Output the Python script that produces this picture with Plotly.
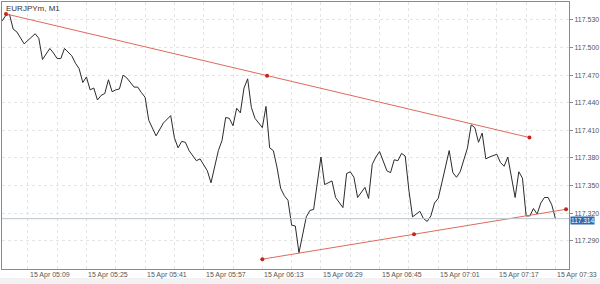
import plotly.graph_objects as go
from datetime import datetime, timedelta

DAY = "2021-04-15"
title = "EURJPYm, M1"

# close prices at line vertices: minutes after 05:00, price
minutes = [2, 3, 4, 5, 6, 8, 11, 12, 13, 15, 16, 17, 18, 19, 21, 22, 23, 24, 25, 26,
           27, 28, 29, 30, 31, 32, 33, 34, 35, 36, 38, 39, 40, 41, 42, 44, 46, 48, 49, 50,
           51, 52, 53, 54, 55, 56, 57, 58, 59, 60, 61, 62, 63, 64, 65, 66, 67, 68, 69, 70,
           71, 73, 74, 75, 76, 77, 78, 79, 80, 81, 82, 83, 84, 85, 86, 87, 89, 90, 92, 93,
           95, 96, 97, 98, 99, 101, 102, 103, 104, 105, 107, 108, 109, 110, 111, 112, 113, 114, 116, 117,
           118, 119, 120, 121, 122, 124, 125, 126, 127, 129, 130, 131, 132, 133, 134, 135, 137, 138, 139, 140,
           142, 143, 144, 145, 146, 147, 148, 149, 150, 151, 152, 153]
prices = [117.529, 117.535, 117.536, 117.520, 117.517, 117.504, 117.515, 117.510, 117.487, 117.499,
          117.494, 117.488, 117.488, 117.499, 117.491, 117.483, 117.477, 117.462, 117.468, 117.454,
          117.456, 117.443, 117.448, 117.450, 117.465, 117.452, 117.454, 117.455, 117.470, 117.467,
          117.457, 117.457, 117.451, 117.446, 117.421, 117.404, 117.418, 117.426, 117.402, 117.391,
          117.398, 117.397, 117.388, 117.383, 117.377, 117.379, 117.372, 117.366, 117.353, 117.369,
          117.388, 117.399, 117.424, 117.423, 117.415, 117.434, 117.429, 117.456, 117.466, 117.435,
          117.423, 117.413, 117.436, 117.391, 117.388, 117.370, 117.347, 117.339, 117.334, 117.307,
          117.306, 117.277, 117.298, 117.316, 117.323, 117.324, 117.381, 117.351, 117.355, 117.337,
          117.326, 117.363, 117.365, 117.359, 117.337, 117.348, 117.336, 117.373, 117.381, 117.387,
          117.366, 117.364, 117.378, 117.377, 117.385, 117.382, 117.345, 117.316, 117.322, 117.314,
          117.311, 117.317, 117.331, 117.336, 117.353, 117.388, 117.364, 117.359, 117.365, 117.391,
          117.416, 117.413, 117.397, 117.407, 117.379, 117.381, 117.384, 117.375, 117.371, 117.381,
          117.337, 117.365, 117.358, 117.317, 117.317, 117.325, 117.319, 117.331, 117.337, 117.337,
          117.329, 117.314]

# trend lines (minutes after 05:00, price)
upper_min = [3.04, 74.3, 145.9]
upper_px = [117.5365, 117.4694, 117.4022]
lower_min = [73.0, 114.4, 155.9]
lower_px = [117.270, 117.297, 117.3242]

current_price = 117.314
x_tick_labels = ["05:09", "05:25", "05:41", "05:57", "06:13", "06:29", "06:45", "07:01", "07:17", "07:33"]
y_ticks = [117.290, 117.320, 117.350, 117.380, 117.410, 117.440, 117.470, 117.500, 117.530]

base = datetime.fromisoformat(DAY + " 05:00:00")
def t(m):
    return base + timedelta(minutes=m)

fig = go.Figure()
fig.add_trace(go.Scatter(x=[t(m) for m in minutes], y=prices, mode="lines",
                         line=dict(color="#2b2b2b", width=1), hoverinfo="skip"))
for mm, pp in ((upper_min, upper_px), (lower_min, lower_px)):
    fig.add_trace(go.Scatter(x=[t(m) for m in mm], y=pp, mode="lines+markers",
                             line=dict(color="#e06a5c", width=1),
                             marker=dict(color="#c0281e", size=4), hoverinfo="skip"))

# current price line
fig.add_hline(y=current_price, line=dict(color="#bcc5cd", width=1))

grid = "#e4e4e4"
fig.update_layout(
    width=600, height=284, margin=dict(l=1, r=28, t=1, b=15),
    paper_bgcolor="white", plot_bgcolor="white", showlegend=False,
    font=dict(family="Liberation Sans, Arial, sans-serif", size=7, color="#555"),
    xaxis=dict(type="date", range=[t(1.95), t(156.7)],
               tick0=t(9), dtick=8 * 60000, showticklabels=False, ticks="",
               showgrid=True, gridcolor=grid, griddash="dot", gridwidth=1,
               showline=True, linecolor="#8a8a8a", mirror=True, zeroline=False),
    yaxis=dict(range=[117.2593, 117.5495], side="right", tickvals=y_ticks,
               tickformat=".3f", ticks="outside", ticklen=3, tickcolor="#8a8a8a",
               tickfont=dict(size=7, color="#555"),
               showgrid=True, gridcolor=grid, griddash="dot", gridwidth=1,
               showline=True, linecolor="#8a8a8a", mirror=True, zeroline=False),
)

for lab in x_tick_labels:
    hh, mm_ = lab.split(":")
    m = (int(hh) - 5) * 60 + int(mm_)
    fig.add_annotation(x=t(m), y=0, xref="x", yref="paper", text="15 Apr " + lab,
                       showarrow=False, xanchor="left", yanchor="top", yshift=0,
                       font=dict(size=7, color="#555"))

fig.add_annotation(x=1.0, y=current_price, xref="paper", yref="y",
                   text="%.3f" % current_price, showarrow=False, xanchor="left",
                   xshift=1, yshift=-2, bgcolor="#2f69b0",
                   font=dict(size=6.5, color="white"), borderpad=0)

fig.add_annotation(x=0, y=1, xref="paper", yref="paper", text=title, showarrow=False,
                   xanchor="left", yanchor="top", xshift=2, yshift=0,
                   font=dict(size=8, color="#333"))

# bottom status band
fig.add_shape(type="rect", xref="paper", yref="paper", x0=-0.01, x1=1.06,
              y0=-0.07, y1=-0.034, fillcolor="#f2f2f2", line=dict(width=0), layer="below")

fig.write_html("out.html")
